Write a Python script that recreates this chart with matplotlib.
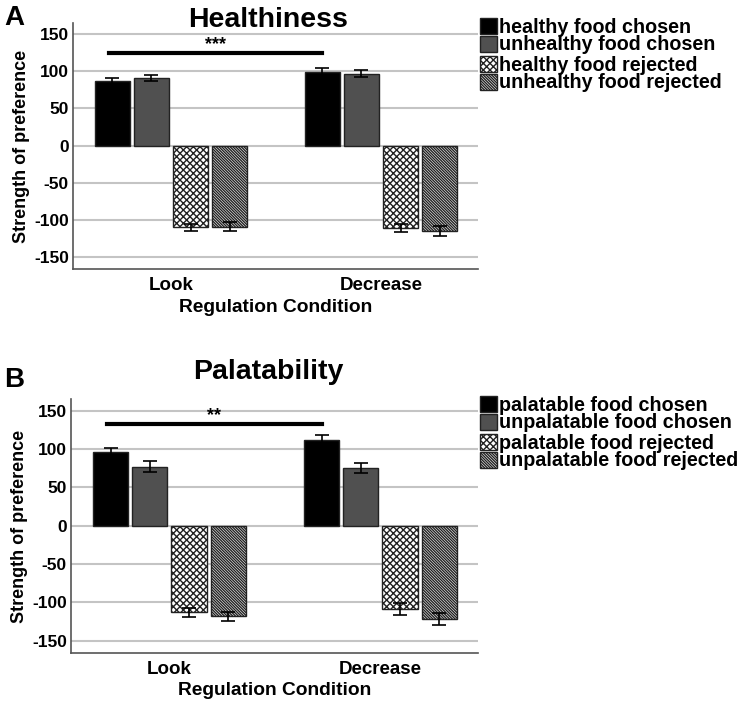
import matplotlib
matplotlib.use("Agg")
import matplotlib.pyplot as plt
import numpy as np
from matplotlib.patches import Patch

plt.rcParams["font.family"] = ["Liberation Sans", "DejaVu Sans"]
plt.rcParams["font.weight"] = "bold"
plt.rcParams["hatch.linewidth"] = 1.0
plt.rcParams["axes.unicode_minus"] = False

# Datos
conditions = ["Look", "Decrease"]

health_labels = ["healthy food chosen", "unhealthy food chosen",
                 "healthy food rejected", "unhealthy food rejected"]
health_means = [[87, 99.5], [91, 97], [-110, -111], [-109, -114.5]]
health_err = [[4, 5], [4, 5], [5, 5], [6, 7]]

palat_labels = ["palatable food chosen", "unpalatable food chosen",
                "palatable food rejected", "unpalatable food rejected"]
palat_means = [[96, 111], [77, 75], [-113, -108.5], [-118, -121.5]]
palat_err = [[5, 7], [7, 7], [6, 8], [6, 8]]

# significancia: (altura, texto)
health_sig = (125, "***")
palat_sig = (132, "**")

faces = ["black", "#505050", "white", "white"]
hatches = [None, None, "xxxxx", "\\" * 12]

fig = plt.figure(figsize=(7.5, 7.05), dpi=100)
ax1 = fig.add_axes([0.0973, 0.6184, 0.54, 0.349])
ax2 = fig.add_axes([0.0947, 0.0738, 0.5423, 0.3602])

x = np.arange(len(conditions))
width = 0.167
step = 0.186


def panel(ax, means, errs, labels, sig, title, letter, title_y, letter_y, leg_y):
    ax.set_axisbelow(True)
    ax.yaxis.grid(True, color="#c4c4c4", lw=1.5)
    handles = []
    for i in range(4):
        pos = x + (i - 1.5) * step
        ax.bar(pos, means[i], width, yerr=errs[i], color=faces[i],
               edgecolor="#222222", linewidth=1.0, hatch=hatches[i],
               capsize=5, error_kw=dict(elinewidth=1.2, capthick=1.2, ecolor="black"))
        handles.append(Patch(facecolor=faces[i], edgecolor="#222222",
                             hatch=hatches[i], label=labels[i]))
    h, txt = sig
    x0 = x[0] - 1.6 * step
    x1 = x[1] - 1.5 * step
    ax.plot([x0, x1], [h, h], color="black", lw=3)
    ax.text((x0 + x1) / 2, h + 11, txt, ha="center", va="center",
            fontsize=13, fontweight="bold")
    ax.set_xlim(-0.467, 1.462)
    ax.set_ylim(-166, 165)
    ax.set_yticks([-150, -100, -50, 0, 50, 100, 150])
    ax.set_xticks(x)
    ax.set_xticklabels(conditions, fontsize=13.5, fontweight="bold")
    ax.tick_params(axis="both", length=0, pad=6)
    ax.tick_params(axis="y", labelsize=12.5, pad=3)
    ax.set_ylabel("Strength of preference", fontsize=13, fontweight="bold", labelpad=3)
    ax.set_xlabel("Regulation Condition", fontsize=13.8, fontweight="bold", labelpad=3)
    for s in ["top", "right"]:
        ax.spines[s].set_visible(False)
    for s in ["left", "bottom"]:
        ax.spines[s].set_color("#555555")
        ax.spines[s].set_linewidth(1.2)

    fig.text(0.358, title_y, title, ha="center", va="baseline",
             fontsize=20.5, fontweight="bold")
    fig.text(0.006, letter_y, letter, ha="left", va="baseline",
             fontsize=20, fontweight="bold")

    for k in range(2):
        leg = fig.legend(handles=handles[2 * k:2 * k + 2], loc="upper left",
                         bbox_to_anchor=(0.64, leg_y - k * 0.0539),
                         frameon=False, fontsize=14.2, handlelength=0.87,
                         handleheight=0.87, handletextpad=0.1, labelspacing=-0.08,
                         borderpad=0, borderaxespad=0)
        for t in leg.get_texts():
            t.set_fontweight("bold")


panel(ax1, health_means, health_err, health_labels, health_sig,
      "Healthiness", "A", 1 - 27 / 705, 1 - 25 / 705, 1 - 18 / 705)
panel(ax2, palat_means, palat_err, palat_labels, palat_sig,
      "Palatability", "B", 1 - 379 / 705, 1 - 387 / 705, 1 - 396 / 705)

fig.savefig("out.png", dpi=100)
